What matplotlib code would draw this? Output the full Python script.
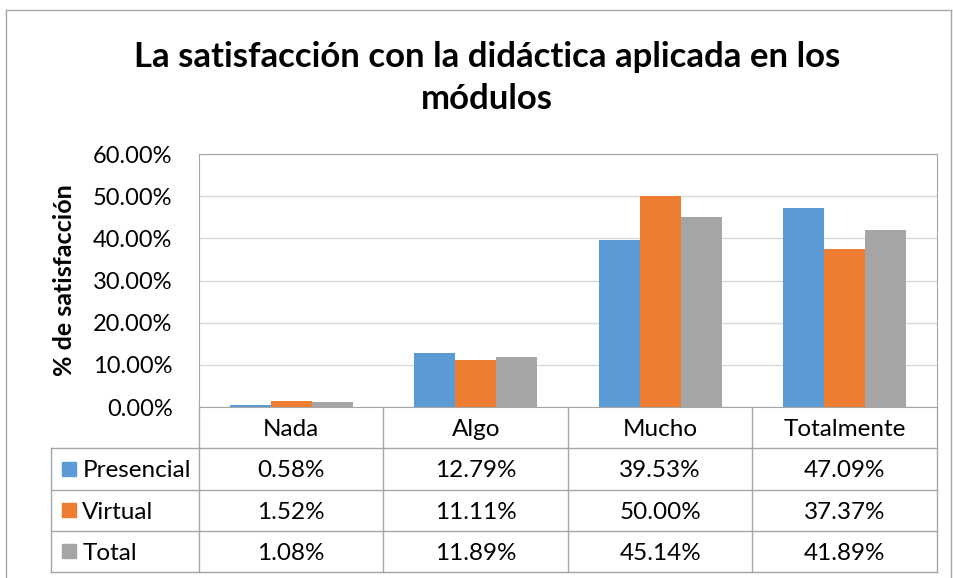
import numpy as np
import matplotlib.pyplot as plt

plt.rcParams['font.family'] = ['Lato', 'DejaVu Sans']

categories = ['Nada', 'Algo', 'Mucho', 'Totalmente']
series = ['Presencial', 'Virtual', 'Total']
presencial = [0.58, 12.79, 39.53, 47.09]
virtual = [1.52, 11.11, 50.00, 37.37]
total = [1.08, 11.89, 45.14, 41.89]
values = [presencial, virtual, total]
colors = ['#5B9BD5', '#ED7D31', '#A5A5A5']

W, H = 954, 578
fig = plt.figure(figsize=(W / 100, H / 100), dpi=100)

def rect(x0, y0, x1, y1):
    # pixel box (top-left origin) -> figure fraction
    return [x0 / W, 1 - y1 / H, (x1 - x0) / W, (y1 - y0) / H]

# outer chart border
border = fig.add_axes(rect(6, 10, 951, 590))
border.set_xticks([]); border.set_yticks([])
border.patch.set_alpha(0)
for s in border.spines.values():
    s.set_color('#A6A6A6')
    s.set_linewidth(1)

px_l, px_t, px_r, px_b = 199, 154, 937, 407
ax = fig.add_axes(rect(px_l, px_t, px_r, px_b))
x = np.arange(len(categories))
bw = 0.222
for i, (vals, c) in enumerate(zip(values, colors)):
    ax.bar(x + (i - 1) * bw, vals, bw, color=c, zorder=3)
ax.set_xlim(-0.5, 3.5)
ax.set_ylim(0, 60)
ax.set_yticks(np.arange(0, 61, 10))
ax.set_yticklabels(['{:.2f}%'.format(v) for v in np.arange(0, 61, 10)], fontsize=17)
ax.set_xticks([])
ax.tick_params(axis='y', length=0, pad=19)
ax.grid(axis='y', color='#D9D9D9', linewidth=1, zorder=0)
for s in ax.spines.values():
    s.set_color('#A6A6A6')
ax.set_ylabel('% de satisfacción', fontsize=18, fontweight='bold', labelpad=12)

fig.text(487 / W, 1 - 78 / H, 'La satisfacción con la didáctica aplicada en los\nmódulos',
         ha='center', va='center', fontsize=25, fontweight='bold', linespacing=1.35)

# data table below the axes
leg_w = (199 - 51) / ((px_r - px_l) / 4)
tab = fig.add_axes(rect(51, px_b, px_r, 572))
tab.set_xlim(-0.5 - leg_w, 3.5)
tab.set_ylim(4, 0)
tab.axis('off')
lc = '#A6A6A6'
xl = -0.5 - leg_w
for b in [-0.5, 0.5, 1.5, 2.5, 3.5]:
    tab.plot([b, b], [0, 4], color=lc, lw=1, clip_on=False)
tab.plot([xl, xl], [1, 4], color=lc, lw=1, clip_on=False)
for r in [1, 2, 3, 4]:
    tab.plot([xl, 3.5], [r, r], color=lc, lw=1, clip_on=False)

for j, cat in enumerate(categories):
    tab.text(j, 0.55, cat, ha='center', va='center', fontsize=17.5)
for i, (name, vals, c) in enumerate(zip(series, values, colors)):
    yc = i + 1.55
    tab.plot([xl + 0.1], [yc - 0.05], marker='s', ms=10, color=c, clip_on=False)
    tab.text(xl + 0.17, yc, name, ha='left', va='center', fontsize=17.5)
    for j, v in enumerate(vals):
        tab.text(j, yc, '{:.2f}%'.format(v), ha='center', va='center', fontsize=17.5)

fig.savefig('out.png', dpi=100)
